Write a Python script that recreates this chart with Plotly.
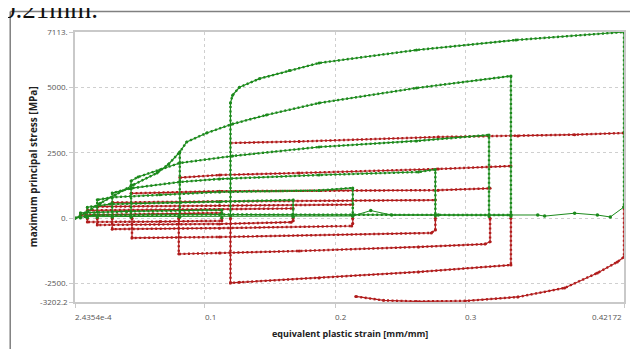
import plotly.graph_objects as go

# ---------------- data (strain [mm/mm], stress [MPa]) ----------------
GREEN = "#1c8a1c"
RED = "#b11c1c"

# green tension branches
gA_x = [0.1196, 0.1196, 0.1212, 0.1265, 0.1418, 0.1647, 0.1876, 0.2624, 0.3387, 0.42172, 0.42172]
gA_y = [80, 4401, 4700, 5000, 5330, 5640, 5929, 6425, 6807, 7113, 428]
gB_x = [0.0807, 0.0807, 0.0860, 0.1013, 0.1212, 0.1472, 0.1876, 0.2624, 0.3349, 0.3349]
gB_y = [40, 2529, 2911, 3255, 3599, 3943, 4401, 4974, 5432, 60]
gEnv_x = [0.00024354, 0.0082, 0.0196, 0.031, 0.0448, 0.0632, 0.0720, 0.0807]
gEnv_y = [0, 200, 573, 886, 1268, 1727, 2060, 2529]
gC_x = [0.0433, 0.0433, 0.0486, 0.0654, 0.0807, 0.1212, 0.1876, 0.2624, 0.3181, 0.3181]
gC_y = [40, 1421, 1574, 1841, 2109, 2376, 2720, 2950, 3178, 60]
gD_x = [0.0288, 0.0288, 0.0440, 0.0807, 0.1112, 0.1876, 0.2639, 0.2769, 0.2769]
gD_y = [40, 960, 1150, 1383, 1498, 1650, 1765, 1860, 80]
gE_x = [0.0173, 0.0173, 0.0288, 0.0654, 0.1112, 0.1876, 0.2135, 0.2135]
gE_y = [30, 700, 800, 900, 1001, 1060, 1154, 80]
gF_x = [0.0097, 0.0097, 0.0273, 0.1112, 0.1677, 0.1677]
gF_y = [20, 420, 540, 619, 695, 46]
gG_x = [0.0044, 0.0044, 0.0400, 0.1130, 0.1130]
gG_y = [10, 200, 260, 313, 20]
gZ1_x = [0.00024354, 0.0143, 0.1112, 0.2135, 0.2769, 0.3349]
gZ1_y = [0, 120, 140, 130, 130, 120]
gZ2_x = [0.0082, 0.0800, 0.1677, 0.2135, 0.2273, 0.2433, 0.2791, 0.3349, 0.3555, 0.3608, 0.3838, 0.4013, 0.4112, 0.42172]
gZ2_y = [60, 60, 60, 84, 290, 120, 122, 130, 122, 80, 190, 120, 46, 428]

# red branches above zero
rTA_x = [0.1196, 0.1723, 0.2791, 0.3402, 0.3838, 0.42172]
rTA_y = [2873, 2930, 3102, 3140, 3190, 3255]
rTB_x = [0.0807, 0.1112, 0.1723, 0.2791, 0.3349]
rTB_y = [1550, 1650, 1727, 1879, 1994]
rTC_x = [0.0433, 0.1112, 0.2791, 0.3189]
rTC_y = [950, 1030, 1070, 1140]
rTD_x = [0.0288, 0.1112, 0.2769]
rTD_y = [600, 640, 690]
rTE_x = [0.0173, 0.1112, 0.2135]
rTE_y = [440, 480, 520]
rTF_x = [0.0097, 0.1112, 0.1677]
rTF_y = [300, 330, 370]
rTG_x = [0.0044, 0.0600, 0.1130]
rTG_y = [120, 170, 200]

# red branches below zero
rBA_x = [0.1196, 0.1196, 0.1265, 0.1876, 0.2639, 0.3349, 0.3349]
rBA_y = [0, -2475, -2450, -2284, -2055, -1788, 0]
rBB_x = [0.0799, 0.0799, 0.1112, 0.1723, 0.2639, 0.3150, 0.3189, 0.3189]
rBB_y = [0, -1368, -1330, -1253, -1100, -990, -900, 0]
rBC_x = [0.0440, 0.0440, 0.1112, 0.2738, 0.2769, 0.2769]
rBC_y = [0, -756, -718, -565, -450, 0]
rBD_x = [0.0288, 0.0288, 0.1112, 0.2127, 0.2135, 0.2135]
rBD_y = [0, -420, -380, -298, -200, 0]
rBE_x = [0.0173, 0.0173, 0.1112, 0.1662, 0.1677, 0.1677]
rBE_y = [0, -260, -220, -153, -100, 0]
rBF_x = [0.0097, 0.0097, 0.0654, 0.1130, 0.1130]
rBF_y = [0, -145, -130, -100, 0]
rBL_x = [0.2158, 0.2372, 0.2624, 0.2998, 0.3402, 0.3761, 0.4013, 0.4166, 0.42172, 0.42172]
rBL_y = [-2990, -3140, -3180, -3163, -3010, -2666, -2093, -1673, -1482, 428]

x_ticks = [2.4354e-4, 0.1, 0.2, 0.3, 0.42172]
x_ticktext = ["2.4354e-4", "0.1", "0.2", "0.3", "0.42172"]
y_ticks = [-3202.2, -2500, 0, 2500, 5000, 7113]
y_ticktext = ["-3202.2", "-2500.", "0.", "2500.", "5000.", "7113."]
x_range = [2.4354e-4, 0.42172]
y_range = [-3202.2, 7113]

# ---------------- figure ----------------
fig = go.Figure()

red_series = [(rTA_x, rTA_y), (rTB_x, rTB_y), (rTC_x, rTC_y), (rTD_x, rTD_y), (rTE_x, rTE_y),
              (rTF_x, rTF_y), (rTG_x, rTG_y), (rBA_x, rBA_y), (rBB_x, rBB_y), (rBC_x, rBC_y),
              (rBD_x, rBD_y), (rBE_x, rBE_y), (rBF_x, rBF_y), (rBL_x, rBL_y)]
green_series = [(gA_x, gA_y), (gB_x, gB_y), (gEnv_x, gEnv_y), (gC_x, gC_y), (gD_x, gD_y),
                (gE_x, gE_y), (gF_x, gF_y), (gG_x, gG_y), (gZ1_x, gZ1_y)]
green_thin = [(gZ2_x, gZ2_y)]

def add(xs, ys, color):
    fig.add_trace(go.Scatter(x=xs, y=ys, mode="lines", line=dict(color=color, width=1.2),
                             hoverinfo="skip", showlegend=False))
    fig.add_trace(go.Scatter(x=xs, y=ys, mode="lines+markers",
                             line=dict(color=color, width=2.4, dash="2px,2.5px"),
                             marker=dict(size=3, color=color),
                             hoverinfo="skip", showlegend=False))

def add_thin(xs, ys, color):
    fig.add_trace(go.Scatter(x=xs, y=ys, mode="lines+markers",
                             line=dict(color=color, width=1),
                             marker=dict(size=3.5, color=color),
                             hoverinfo="skip", showlegend=False))

for xs, ys in red_series:
    add(xs, ys, RED)
for xs, ys in green_series:
    add(xs, ys, GREEN)
for xs, ys in green_thin:
    add_thin(xs, ys, GREEN)

axis_common = dict(showgrid=True, gridcolor="#cfcfcf", griddash="dot", gridwidth=1,
                   showline=True, linecolor="#c9c9c9", linewidth=1.5, mirror=True,
                   ticks="outside", ticklen=4, tickcolor="#c9c9c9", zeroline=False)

# the page body adds an 8 px offset, so the figure is 8 px smaller and shifted
fig.update_layout(
    width=630, height=341,
    margin=dict(l=67, r=12, t=24, b=47),
    paper_bgcolor="white", plot_bgcolor="white",
    showlegend=False,
    font=dict(family="Open Sans", color="#555555", size=8),
    xaxis=dict(range=x_range, tickvals=x_ticks, showticklabels=False, **axis_common),
    yaxis=dict(range=y_range, tickvals=y_ticks, ticktext=y_ticktext,
               tickfont=dict(size=8, color="#555555"), **axis_common),
)

# x tick labels (first and inner ones start at the tick, last one ends at it)
for v, t in zip(x_ticks, x_ticktext):
    last = (t == x_ticktext[-1])
    fig.add_annotation(x=v, y=-0.052, xref="x", yref="paper", text=t, showarrow=False,
                       xanchor="right" if last else "left", yanchor="middle",
                       xshift=0 if last else -2,
                       font=dict(family="Open Sans", size=8, color="#555555"))

fig.add_annotation(x=0.5, y=-0.115, xref="paper", yref="paper",
                   text="<b>equivalent plastic strain [mm/mm]</b>", showarrow=False,
                   xanchor="center", yanchor="middle",
                   font=dict(family="Open Sans", size=9, color="#222222"))
fig.add_annotation(x=-0.0762, y=0.5, xref="paper", yref="paper",
                   text="<b>maximum principal stress [MPa]</b>", showarrow=False,
                   textangle=-90, xanchor="center", yanchor="middle",
                   font=dict(family="Open Sans", size=10, color="#222222"))

# surrounding frame of the picture and the cut-off caption above it
fig.add_shape(type="line", xref="paper", yref="paper", x0=-0.118, x1=1.03, y0=1.0759, y1=1.0759,
              line=dict(color="#808080", width=1.5))
fig.add_shape(type="line", xref="paper", yref="paper", x0=-0.118, x1=-0.118, y0=1.0759, y1=-0.25,
              line=dict(color="#808080", width=1.5))
fig.add_annotation(x=-0.1361, y=1.022, xref="paper", yref="paper", text="0.21mm.",
                   showarrow=False, xanchor="left", yanchor="bottom",
                   font=dict(family="Liberation Serif", size=27, color="#111111"))

fig.write_html("out.html")
